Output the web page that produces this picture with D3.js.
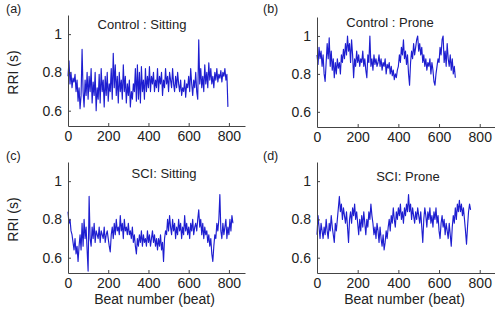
<!DOCTYPE html>
<html><head><meta charset="utf-8">
<script src="https://cdn.jsdelivr.net/npm/d3@7"></script>
<style>
body{margin:0;background:#fff;}
svg{display:block;font-family:"Liberation Sans",Arial,sans-serif;}
</style></head>
<body><svg id="c" width="495" height="324"></svg>
<script>
// Beat step between samples (beats)
const beatStep = 5;
const xTicks = [0, 200, 400, 600, 800];
const yTicks = [0.6, 0.8, 1];

const ctrlSitting = [
0.78,0.86,0.74,0.80,0.72,0.77,0.75,0.79,0.70,0.76,
0.65,0.72,0.61,0.68,0.92,0.70,0.62,0.76,0.68,0.80,
0.66,0.78,0.70,0.82,0.64,0.75,0.68,0.80,0.60,0.72,
0.66,0.79,0.64,0.82,0.70,0.76,0.62,0.78,0.68,0.80,
0.65,0.74,0.70,0.82,0.66,0.90,0.72,0.84,0.68,0.78,
0.64,0.80,0.70,0.76,0.66,0.84,0.70,0.78,0.64,0.74,
0.68,0.76,0.62,0.70,0.66,0.74,0.70,0.82,0.65,0.84,
0.66,0.80,0.64,0.83,0.70,0.76,0.66,0.82,0.70,0.78,
0.72,0.83,0.70,0.78,0.74,0.80,0.70,0.76,0.72,0.82,
0.70,0.78,0.74,0.80,0.68,0.76,0.72,0.82,0.74,0.78,
0.70,0.80,0.76,0.72,0.82,0.74,0.70,0.78,0.72,0.80,
0.74,0.70,0.76,0.68,0.72,0.70,0.76,0.67,0.74,0.72,
0.78,0.70,0.82,0.74,0.68,0.76,0.72,0.80,0.70,0.66,
0.97,0.74,0.82,0.72,0.78,0.70,0.84,0.74,0.80,0.72,
0.85,0.76,0.82,0.74,0.78,0.72,0.80,0.76,0.82,0.75,
0.79,0.77,0.81,0.75,0.80,0.78,0.82,0.76,0.79,0.62];

const ctrlProne = [
0.90,0.85,0.94,0.88,0.92,0.84,0.90,0.80,0.76,0.86,
0.96,0.88,0.99,0.84,0.92,0.82,0.88,0.78,0.86,0.80,
0.88,0.83,0.86,0.80,0.90,0.86,0.93,0.88,0.96,0.90,
1.00,0.92,0.96,0.86,0.98,0.90,0.78,0.88,0.84,0.92,
0.86,0.90,0.84,0.88,0.86,0.92,0.84,0.88,0.82,0.78,
0.90,0.86,1.00,0.84,0.88,0.82,0.90,0.85,0.88,0.84,
0.86,0.90,0.84,0.88,0.82,0.86,0.84,0.88,0.80,0.85,
0.83,0.86,0.80,0.84,0.79,0.82,0.77,0.80,0.78,0.82,
0.84,0.90,0.86,0.94,0.90,0.98,0.88,0.92,0.85,0.90,
0.80,0.74,0.86,0.92,0.88,0.96,0.90,0.94,0.98,1.00,
0.92,0.96,0.90,0.94,0.86,0.90,0.84,0.88,0.82,0.86,
0.84,0.88,0.80,0.86,0.82,0.76,0.74,0.80,0.84,0.88,
0.86,0.94,0.90,0.98,1.00,0.86,0.92,0.84,0.96,0.88,
0.84,0.90,0.82,0.88,0.80,0.84,0.78];

const sciSitting = [
0.84,0.78,0.80,0.74,0.72,0.68,0.64,0.70,0.62,0.66,
0.58,0.66,0.72,0.64,0.78,0.66,0.80,0.70,0.76,0.64,
0.53,0.92,0.70,0.66,0.76,0.70,0.78,0.68,0.74,0.72,
0.70,0.76,0.68,0.74,0.72,0.70,0.76,0.68,0.72,0.74,
0.70,0.66,0.63,0.72,0.76,0.70,0.78,0.72,0.80,0.74,
0.76,0.72,0.82,0.74,0.78,0.70,0.80,0.74,0.76,0.72,
0.78,0.72,0.74,0.70,0.76,0.68,0.72,0.66,0.62,0.70,
0.66,0.72,0.68,0.74,0.66,0.72,0.68,0.70,0.66,0.74,
0.68,0.72,0.66,0.70,0.74,0.68,0.72,0.66,0.70,0.64,
0.70,0.66,0.72,0.64,0.68,0.58,0.70,0.74,0.72,0.80,
0.74,0.82,0.76,0.72,0.80,0.74,0.78,0.70,0.76,0.72,
0.80,0.74,0.78,0.70,0.76,0.72,0.82,0.74,0.78,0.72,
0.76,0.70,0.78,0.74,0.80,0.72,0.76,0.78,0.74,0.80,
0.85,0.76,0.80,0.72,0.78,0.70,0.76,0.72,0.74,0.68,
0.72,0.66,0.70,0.62,0.58,0.66,0.72,0.70,0.78,0.74,
0.80,0.93,0.74,0.70,0.78,0.72,0.76,0.80,0.70,0.76,
0.72,0.80,0.74,0.82,0.78];

const sciProne = [
0.72,0.82,0.76,0.70,0.78,0.74,0.70,0.76,0.72,0.80,
0.74,0.70,0.78,0.74,0.82,0.76,0.72,0.68,0.78,0.74,
0.80,0.86,0.92,0.84,0.88,0.80,0.86,0.82,0.78,0.84,
0.76,0.68,0.80,0.84,0.78,0.86,0.82,0.88,0.80,0.84,
0.78,0.72,0.80,0.74,0.82,0.76,0.84,0.78,0.72,0.80,
0.76,0.84,0.80,0.88,0.82,0.78,0.72,0.76,0.70,0.78,
0.74,0.68,0.76,0.70,0.66,0.72,0.64,0.68,0.74,0.70,
0.76,0.80,0.74,0.82,0.78,0.86,0.80,0.76,0.84,0.80,
0.86,0.82,0.88,0.80,0.84,0.78,0.86,0.82,0.88,0.84,
0.93,0.84,0.88,0.80,0.86,0.82,0.78,0.84,0.80,0.86,
0.82,0.78,0.84,0.76,0.68,0.80,0.86,0.82,0.76,0.84,
0.80,0.86,0.78,0.82,0.76,0.84,0.80,0.86,0.78,0.82,
0.74,0.70,0.78,0.82,0.76,0.80,0.72,0.78,0.74,0.70,
0.78,0.72,0.66,0.76,0.82,0.78,0.86,0.80,0.88,0.84,
0.90,0.84,0.88,0.82,0.86,0.80,0.74,0.67,0.76,0.84,
0.88,0.85];

const panels = [
  {tag:"(a)", title:"Control : Sitting", data:ctrlSitting, x0:68, x1:245, top:15, bottom:126, tagX:6, tagY:13, titleX:142, titleY:29, ylab:true, xlab:false},
  {tag:"(b)", title:"Control : Prone", data:ctrlProne, x0:317, x1:496, top:17, bottom:127, tagX:263, tagY:13, titleX:390, titleY:27, ylab:false, xlab:false},
  {tag:"(c)", title:"SCI: Sitting", data:sciSitting, x0:68, x1:245, top:162, bottom:273, tagX:6, tagY:160, titleX:164, titleY:178, ylab:true, xlab:true},
  {tag:"(d)", title:"SCI: Prone", data:sciProne, x0:317, x1:496, top:162, bottom:273, tagX:263, tagY:160, titleX:408, titleY:181, ylab:false, xlab:true}
];

const svg = d3.select("#c");
const textCol = "#222";

panels.forEach(p => {
  const x = d3.scaleLinear().domain([0, 880]).range([p.x0, p.x1]);
  const y = d3.scaleLinear().domain([0.52, 1.1]).range([p.bottom, p.top]);
  const g = svg.append("g");

  // line
  const line = d3.line().x((d,i) => x(i*beatStep)).y(d => y(d));
  g.append("path").datum(p.data).attr("d", line)
    .attr("fill","none").attr("stroke","#1e1ed0").attr("stroke-width",1.15).attr("stroke-linejoin","round");

  // axes (ticks inward)
  const xa = g.append("g").attr("transform",`translate(0,${p.bottom})`)
    .call(d3.axisBottom(x).tickValues(xTicks).tickSizeInner(-3).tickSizeOuter(0).tickPadding(5).tickFormat(d3.format("d")));
  const ya = g.append("g").attr("transform",`translate(${p.x0},0)`)
    .call(d3.axisLeft(y).tickValues(yTicks).tickSizeInner(-3).tickSizeOuter(0).tickPadding(6).tickFormat(d => d===1?"1":d3.format(".1f")(d)));
  [xa, ya].forEach(a => {
    a.select(".domain").attr("stroke","#444");
    a.selectAll(".tick line").attr("stroke","#444");
    a.selectAll("text").attr("fill",textCol).attr("font-size",14).attr("font-family","Liberation Sans, Arial, sans-serif");
  });

  g.append("text").attr("x",p.tagX).attr("y",p.tagY).text(p.tag)
    .attr("font-size",12.5).attr("fill",textCol);
  g.append("text").attr("x",p.titleX).attr("y",p.titleY).attr("text-anchor","middle").text(p.title)
    .attr("font-size",13).attr("fill",textCol);
  if (p.ylab) {
    const cy = (p.top + p.bottom)/2 + 2;
    g.append("text").attr("transform",`translate(18,${cy}) rotate(-90)`).attr("text-anchor","middle")
      .text("RRI (s)").attr("font-size",14).attr("fill",textCol);
  }
  if (p.xlab) {
    g.append("text").attr("x",(p.x0+p.x1)/2 - 2).attr("y",304).attr("text-anchor","middle")
      .text("Beat number (beat)").attr("font-size",14).attr("fill",textCol);
  }
});
</script></body></html>
